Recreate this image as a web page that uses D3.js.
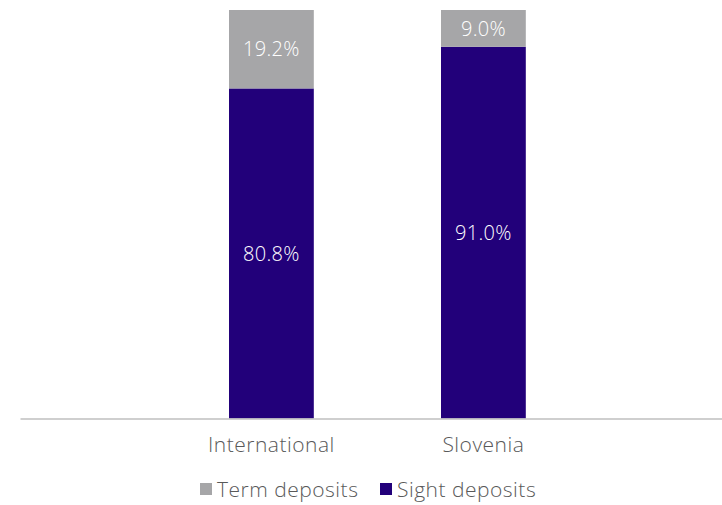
<!DOCTYPE html>
<html>
<head>
<meta charset="utf-8">
<script src="https://cdn.jsdelivr.net/npm/d3@7"></script>
<style>
  html, body { margin: 0; padding: 0; background: #ffffff; }
  svg { display: block; font-family: "Open Sans", "Lato", sans-serif; font-weight: 300; }
</style>
</head>
<body>
<svg id="chart" width="722" height="505"></svg>
<script>
// Deposit structure by market (shares of total deposits, %)
const categories = ["International", "Slovenia"];
const sightDeposits = [80.8, 91.0];
const termDeposits = [19.2, 9.0];
const seriesNames = ["Term deposits", "Sight deposits"];
const seriesColors = ["#a6a6a8", "#22007a"];

const svg = d3.select("#chart");
const plot = { left: 20, right: 722, top: 10, bottom: 418.5 };
const fontFamily = '"Open Sans", "Lato", sans-serif';

const rows = categories.map((c, i) => ({
  category: c,
  "Sight deposits": sightDeposits[i],
  "Term deposits": termDeposits[i]
}));

// Sight deposits sit at the base, term deposits stacked above
const stacked = d3.stack().keys(["Sight deposits", "Term deposits"])(rows);

const x = d3.scaleBand()
  .domain(categories)
  .range([plot.left, plot.right])
  .paddingInner(0.6)
  .paddingOuter(0.9557)
  .align(0.5158);

const y = d3.scaleLinear()
  .domain([0, 100])
  .range([plot.bottom, plot.top]);

const color = d3.scaleOrdinal().domain(seriesNames).range(seriesColors);

const layers = svg.append("g")
  .selectAll("g")
  .data(stacked)
  .join("g")
  .attr("fill", d => color(d.key));

layers.selectAll("rect")
  .data(d => d)
  .join("rect")
  .attr("x", d => x(d.data.category))
  .attr("width", x.bandwidth())
  .attr("y", d => y(d[1]))
  .attr("height", d => y(d[0]) - y(d[1]));

// Value labels centred inside each segment
layers.selectAll("text")
  .data(d => d)
  .join("text")
  .attr("x", d => x(d.data.category) + x.bandwidth() / 2)
  .attr("y", d => (y(d[0]) + y(d[1])) / 2)
  .attr("dy", "0.36em")
  .attr("text-anchor", "middle")
  .attr("fill", "#ffffff")
  .attr("font-size", 20)
  .attr("letter-spacing", 0.3)
  .text(d => d3.format(".1f")(d[1] - d[0]) + "%");

// Category axis
const xAxis = svg.append("g")
  .attr("transform", `translate(0,${plot.bottom})`)
  .call(d3.axisBottom(x).tickSize(0).tickSizeOuter(0).tickPadding(19));
xAxis.select(".domain").attr("stroke", "#bfbfbf").attr("stroke-width", 1.5);
xAxis.selectAll("text")
  .attr("fill", "#595959")
  .attr("font-size", 21)
  .attr("letter-spacing", 0.5)
  .attr("font-family", fontFamily)
  .attr("font-weight", 300);

// Legend
const legendItems = [
  { name: seriesNames[0], x: 200 },
  { name: seriesNames[1], x: 380 }
];
const legend = svg.append("g").attr("transform", "translate(0,489)");
const li = legend.selectAll("g").data(legendItems).join("g")
  .attr("transform", d => `translate(${d.x},0)`);
li.append("rect")
  .attr("x", 0).attr("y", -6)
  .attr("width", 12).attr("height", 12)
  .attr("fill", d => color(d.name));
li.append("text")
  .attr("x", 17).attr("y", 0)
  .attr("dy", "0.36em")
  .attr("fill", "#595959")
  .attr("font-size", 21)
  .attr("letter-spacing", 0.5)
  .text(d => d.name);
</script>
</body>
</html>
